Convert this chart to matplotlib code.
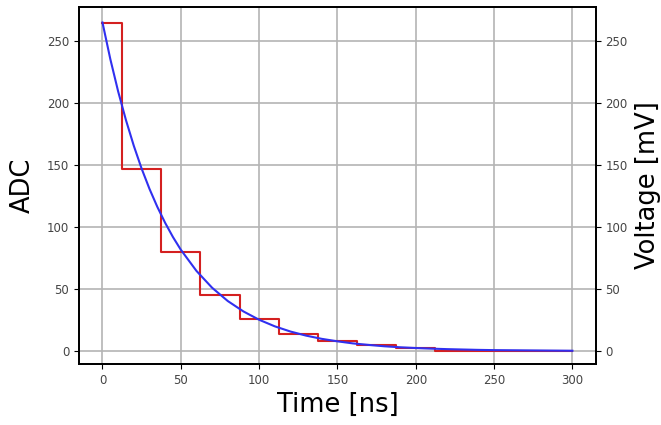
import matplotlib.pyplot as plt

# sampled ADC values (one per 25 ns bin)
sample_t = [0, 25, 50, 75, 100, 125, 150, 175, 200, 225, 250, 275, 300]
sample_adc = [265, 147, 80, 45, 26, 14, 8, 5, 2.5, 0, 0, 0, 0]

# fitted pulse shape
fit_t = [0, 5, 10, 15, 20, 25, 30, 35, 40, 45, 50, 60, 70, 80, 90, 100, 110, 120,
         130, 140, 150, 160, 170, 180, 190, 200, 210, 220, 230, 240, 250, 260,
         270, 280, 290, 300]
fit_adc = [265, 235.5, 209.4, 186.2, 165.5, 147.1, 130.8, 116.3, 103.4, 91.9,
           81.7, 64.6, 51.0, 40.3, 31.9, 25.2, 19.9, 15.7, 12.4, 9.8, 7.8, 6.1,
           4.9, 3.8, 3.0, 2.4, 1.9, 1.5, 1.2, 0.9, 0.7, 0.6, 0.5, 0.4, 0.3, 0.2]

x_ticks = [0, 50, 100, 150, 200, 250, 300]
y_ticks = [0, 50, 100, 150, 200, 250]

fig = plt.figure(figsize=(6.61, 4.25), dpi=100)
ax = fig.add_axes([0.1195, 0.1435, 0.782, 0.84])

ax.plot(sample_t, sample_adc, drawstyle="steps-mid", c="#d42020", lw=1.5)
ax.plot(fit_t, fit_adc, c="#3030f0", lw=1.5)

ax.set_xticks(x_ticks)
ax.set_yticks(y_ticks)
ax.set_xlim(-15, 315)
ax.set_ylim(-10.5, 277.5)
ax.grid(True, color="#b4b4b4", lw=1.2)
ax.tick_params(labelsize=8.5, labelcolor="#444444")
ax.set_xlabel("Time [ns]", fontsize=18.5, labelpad=4)
ax.set_ylabel("ADC", fontsize=18.5, labelpad=8)

# right axis shows the same scale in mV
ax2 = ax.twinx()
ax2.set_ylim(ax.get_ylim())
ax2.set_yticks(y_ticks)
ax2.tick_params(labelsize=8.5, labelcolor="#444444")
ax2.set_ylabel("Voltage [mV]", fontsize=18.5, labelpad=5)

for a in (ax, ax2):
    for s in a.spines.values():
        s.set_linewidth(1.3)

fig.savefig("out.png", dpi=100)
